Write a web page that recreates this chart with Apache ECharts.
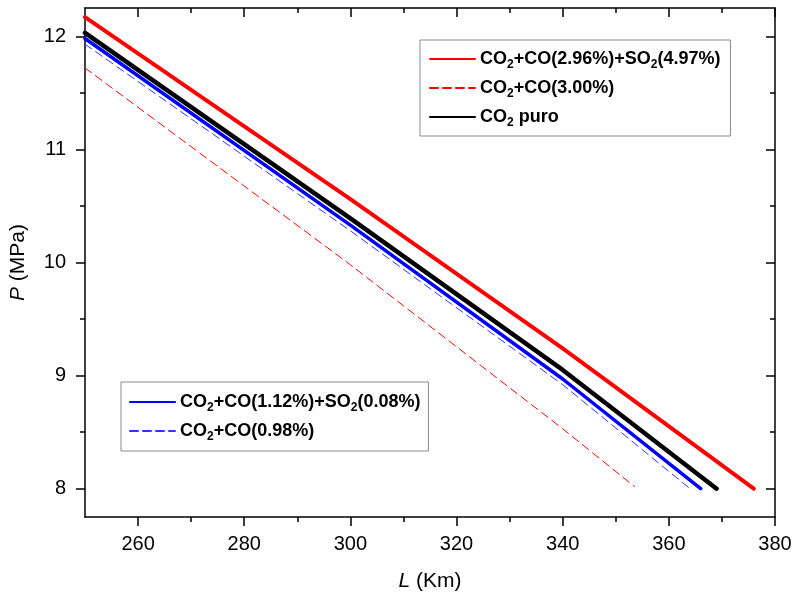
<!DOCTYPE html>
<html>
<head>
<meta charset="utf-8">
<script src="https://cdn.jsdelivr.net/npm/echarts@6/dist/echarts.min.js"></script>
<style>
  html, body { margin: 0; padding: 0; background: #fff; }
  #chart { width: 794px; height: 594px; }
</style>
</head>
<body>
<div id="chart"></div>
<script>
// valores: L (Km) y P (MPa)
const namesTop = ['CO2+CO(2.96%)+SO2(4.97%)', 'CO2+CO(3.00%)', 'CO2 puro'];
const namesBottom = ['CO2+CO(1.12%)+SO2(0.08%)', 'CO2+CO(0.98%)'];

const lRed = [250, 300, 340, 376];
const pRed = [12.17, 10.56, 9.24, 8.0];
const lRedDash = [250, 300, 340, 353.5];
const pRedDash = [11.72, 9.98, 8.53, 8.02];
const lBlack = [250, 300, 340, 369];
const pBlack = [12.03, 10.39, 9.05, 8.0];
const lBlue = [250, 300, 340, 366];
const pBlue = [11.98, 10.33, 8.97, 8.0];
const lBlueDash = [250, 300, 340, 364];
const pBlueDash = [11.93, 10.28, 8.92, 8.0];

const xMajor = [260, 280, 300, 320, 340, 360, 380];
const xMinor = [270, 290, 310, 330, 350, 370];
const yMajor = [8, 9, 10, 11, 12];
const yMinor = [8.5, 9.5, 10.5, 11.5];

const FONT = 'Arial, "Liberation Sans", sans-serif';

function pairs(xs, ys) {
  return xs.map((x, i) => [x, ys[i]]);
}

function legendText(name) {
  return name.replace(/(CO|SO)2/g, '$1{s|2}');
}

const legendStyle = {
  orient: 'vertical',
  selectedMode: false,
  borderColor: '#8a8a8a',
  borderWidth: 1,
  itemWidth: 45,
  itemHeight: 14,
  itemGap: 5,
  itemStyle: {opacity: 0},
  formatter: legendText,
  textStyle: {
    fontFamily: FONT,
    fontSize: 18,
    fontWeight: 'bold',
    color: '#000',
    lineHeight: 22,
    rich: {
      s: {fontFamily: FONT, fontSize: 12, fontWeight: 'bold', color: '#000', lineHeight: 12, padding: [12, 0, 0, 0]}
    }
  }
};

function xAx(pos, ticks, len, inside, main) {
  return {
    type: 'value', position: pos, min: 250, max: 380,
    axisLine: {show: main, lineStyle: {color: '#000', width: 1.5}},
    axisTick: {show: true, inside: inside, length: len, customValues: ticks, lineStyle: {color: '#000', width: 1.5}},
    axisLabel: main && pos === 'bottom'
      ? {customValues: xMajor, fontFamily: FONT, fontSize: 20, color: '#000', margin: 17}
      : {show: false},
    splitLine: {show: false}
  };
}

function yAx(pos, ticks, len, inside, main) {
  return {
    type: 'value', position: pos, min: 7.75, max: 12.25,
    axisLine: {show: main, lineStyle: {color: '#000', width: 1.5}},
    axisTick: {show: true, inside: inside, length: len, customValues: ticks, lineStyle: {color: '#000', width: 1.5}},
    axisLabel: main && pos === 'left'
      ? {customValues: yMajor, fontFamily: FONT, fontSize: 20, color: '#000', margin: 19}
      : {show: false},
    splitLine: {show: false}
  };
}

const chart = echarts.init(document.getElementById('chart'));

const xAxes = [
  xAx('bottom', xMajor, 9, false, true),
  xAx('bottom', xMinor, 5, false, false),
  xAx('top', xMajor, 9, true, true),
  xAx('top', xMinor, 5, true, false)
];
xAxes[0].name = '{i|L} (Km)';
xAxes[0].nameLocation = 'middle';
xAxes[0].nameGap = 54;
xAxes[0].nameTextStyle = {fontFamily: FONT, fontSize: 21, color: '#000', rich: {i: {fontFamily: FONT, fontSize: 21, fontStyle: 'italic', color: '#000'}}};

const yAxes = [
  yAx('left', yMajor, 9, false, true),
  yAx('left', yMinor, 5, false, false),
  yAx('right', yMajor, 9, true, true),
  yAx('right', yMinor, 5, true, false)
];
yAxes[0].name = '{i|P} (MPa)';
yAxes[0].nameLocation = 'middle';
yAxes[0].nameGap = 56;
yAxes[0].nameTextStyle = {fontFamily: FONT, fontSize: 21, color: '#000', rich: {i: {fontFamily: FONT, fontSize: 21, fontStyle: 'italic', color: '#000'}}};

function line(name, data, color, width, dashed) {
  return {
    name: name, type: 'line', data: data,
    xAxisIndex: 0, yAxisIndex: 0,
    symbol: 'none', smooth: false, silent: true,
    itemStyle: {color: color},
    lineStyle: {color: color, width: width, type: dashed ? [8, 5] : 'solid', join: 'round', cap: 'round'},
    z: dashed ? 3 : 2
  };
}

chart.setOption({
  animation: false,
  grid: {left: 85, right: 19, top: 8, bottom: 77, outerBoundsMode: 'none'},
  legend: [
    Object.assign({}, legendStyle, {data: namesTop, left: 420, top: 40, padding: [7, 10, 7, 9]}),
    Object.assign({}, legendStyle, {data: namesBottom, left: 121, top: 382, padding: [8, 8, 8, 8]})
  ],
  xAxis: xAxes,
  yAxis: yAxes,
  series: [
    line(namesTop[0], pairs(lRed, pRed), '#ff0000', 4, false),
    line(namesTop[1], pairs(lRedDash, pRedDash), '#ff0000', 1, true),
    line(namesTop[2], pairs(lBlack, pBlack), '#000000', 4.5, false),
    line(namesBottom[0], pairs(lBlue, pBlue), '#0000ff', 3.5, false),
    line(namesBottom[1], pairs(lBlueDash, pBlueDash), '#3333ff', 1, true)
  ]
});
</script>
</body>
</html>
